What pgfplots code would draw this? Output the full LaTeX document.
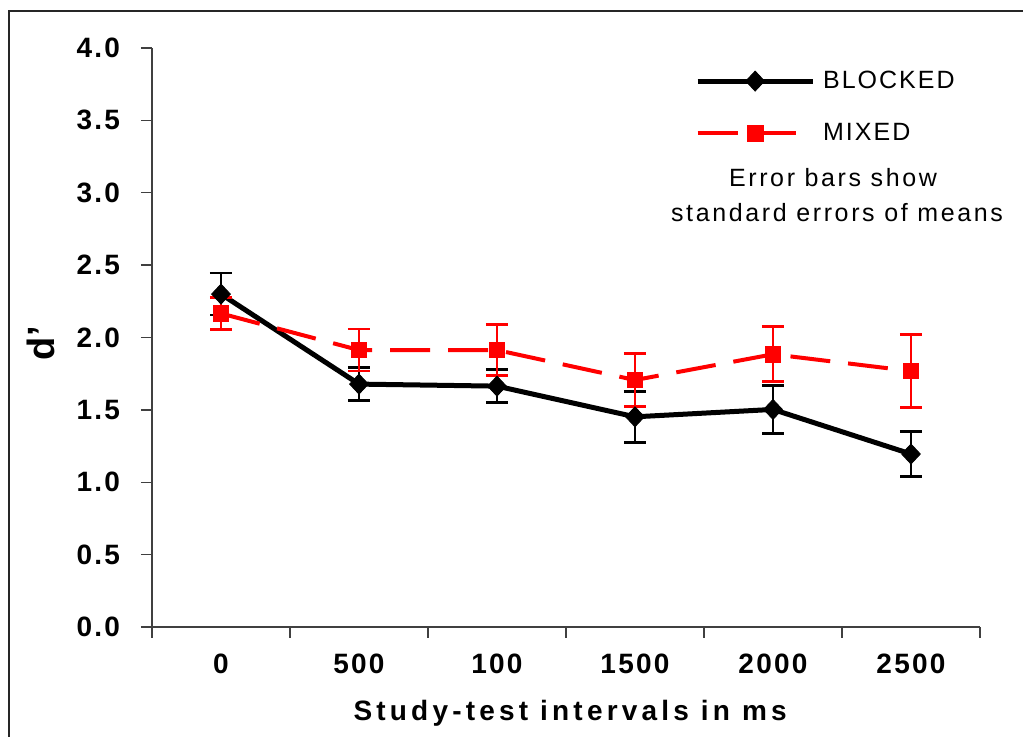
\documentclass[border=0pt]{standalone}
\usepackage{pgfplots}
\pgfplotsset{compat=1.18}
\usepackage{pgfplotstable}
\usepackage{fontspec}
\setmainfont{Liberation Sans}
\newfontfamily\tickfont[LetterSpace=8]{Liberation Sans}
\newfontfamily\legfont[LetterSpace=8]{Liberation Sans}
\newfontfamily\notefont[LetterSpace=10.5]{Liberation Sans}
\newfontfamily\labfont[LetterSpace=15]{Liberation Sans}

\pgfplotsset{longlegend/.style={legend image code/.code={\draw[mark repeat=2, mark phase=2, ##1] plot coordinates {(0pt,0pt) (28.75pt,0pt) (57.5pt,0pt)};}}}

\pgfplotstableread{
x y e
0 2.300 0.145
1 1.678 0.112
2 1.664 0.113
3 1.452 0.177
4 1.503 0.165
5 1.195 0.155
}\blocked
\pgfplotstableread{
x y e
0 2.166 0.110
1 1.913 0.145
2 1.913 0.175
3 1.706 0.185
4 1.884 0.190
5 1.768 0.250
}\mixed

\begin{document}
\begin{tikzpicture}
\draw[line width=1pt, black!85] (4.5pt,0pt) -- (4.5pt,363pt) -- (514pt,363pt);
\begin{axis}[
  at={(76pt,55pt)}, anchor=south west,
  scale only axis, width=414pt, height=289.5pt,
  xmin=-0.5, xmax=5.5, ymin=0, ymax=4,
  axis x line*=bottom, axis y line*=left,
  axis line style={-, black!75, line width=0.7pt},
  tick align=outside,
  major tick length=5.5pt,
  tick style={black!75, line width=0.7pt},
  ytick={0,0.5,...,4},
  xtick={-0.5,0.5,...,5.5},
  xticklabel=\empty,
  extra x ticks={0,1,2,3,4,5},
  extra x tick labels={0,500,100,1500,2000,2500},
  extra x tick style={major tick length=0pt, tick style={draw=none}},
  /pgf/number format/assume math mode=true,
  yticklabel style={/pgf/number format/fixed, /pgf/number format/fixed zerofill, /pgf/number format/precision=1, font=\tickfont\bfseries\fontsize{14}{16}\selectfont, xshift=-7pt},
  xticklabel style={font=\tickfont\bfseries\fontsize{14}{16}\selectfont, anchor=north, yshift=-10pt},
  ylabel={d’},
  ylabel style={font=\bfseries\fontsize{19}{22}\selectfont, at={(axis description cs:-0.134,0.49)}, anchor=center, rotate=0},
  xlabel={Study-test intervals in ms},
  xlabel style={font=\labfont\bfseries\fontsize{14}{16}\selectfont, at={(axis description cs:0.505,-0.1485)}, anchor=center},
  legend style={at={(axis description cs:0.6555,0.975)}, anchor=north west, draw=none, fill=none, inner sep=0pt, row sep=8pt, font=\legfont\fontsize{12.5}{15}\selectfont, nodes={inner sep=4pt}},
  legend cell align=left,
  clip=false,
]
\addplot[black, line width=2.5pt, mark=diamond*, mark size=5pt, mark options={solid, xscale=1.25, line width=0.4pt},
  longlegend,
  error bars/.cd, y dir=both, y explicit,
  error bar style={line width=1.4pt, solid, black},
  error mark options={rotate=90, mark size=5.5pt, line width=1.4pt, black, solid}]
  table[x=x, y=y, y error=e] {\blocked};
\addlegendentry{BLOCKED}
\addplot[red, line width=2pt, dash pattern=on 20pt off 9pt, mark=square*, mark size=3.9pt, mark options={solid, line width=0.4pt},
  longlegend,
  error bars/.cd, y dir=both, y explicit,
  error bar style={line width=1.4pt, solid, red},
  error mark options={rotate=90, mark size=5.5pt, line width=1.4pt, red, solid}]
  table[x=x, y=y, y error=e] {\mixed};
\addlegendentry{MIXED}
\end{axis}
\node[font=\notefont\fontsize{12.5}{15}\selectfont] at (416.5pt,279.5pt) {Error bars show};
\node[font=\notefont\fontsize{12.5}{15}\selectfont] at (418.5pt,262pt) {standard errors of means};
\pgfresetboundingbox
\useasboundingbox (0,0) rectangle (511.5pt,368.5pt);
\end{tikzpicture}
\end{document}
